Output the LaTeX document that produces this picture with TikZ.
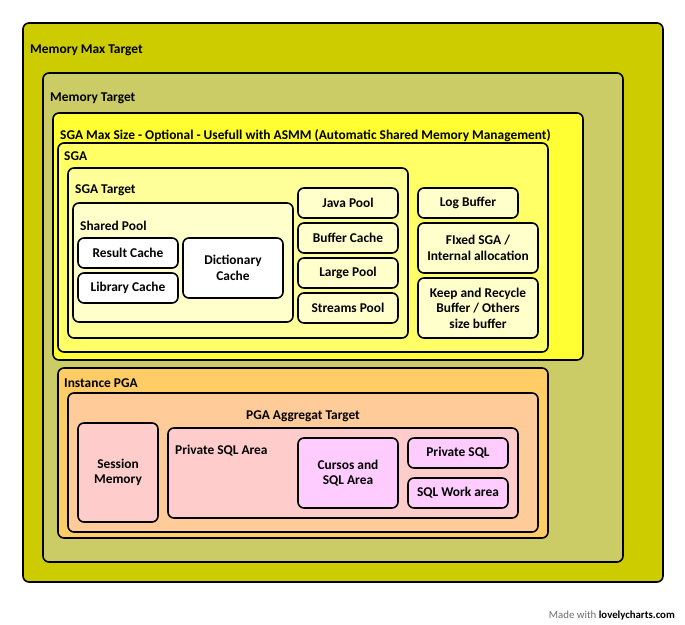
\documentclass[tikz,border=0pt]{standalone}
\usepackage{fontspec}
\setmainfont{Carlito}
\definecolor{cMax}{RGB}{204,204,0}
\definecolor{cMem}{RGB}{204,204,102}
\definecolor{cSgaMax}{RGB}{255,255,51}
\definecolor{cSga}{RGB}{255,255,102}
\definecolor{cSgaT}{RGB}{255,255,153}
\definecolor{cPool}{RGB}{255,255,204}
\definecolor{cPga}{RGB}{255,204,102}
\definecolor{cPgaAgg}{RGB}{255,204,153}
\definecolor{cPink}{RGB}{255,204,204}
\definecolor{cLilac}{RGB}{255,204,255}
\definecolor{cGrayTxt}{RGB}{110,110,110}
\tikzset{
  box/.style={draw=black, line width=1.6pt, rounded corners=6pt, inner sep=0pt, outer sep=0pt,
     font=\fontsize{13.4}{15.5}\selectfont\bfseries, align=center, text=black},
  lbl/.style={anchor=west, inner sep=0pt, font=\fontsize{13.4}{15.5}\selectfont\bfseries, text=black},
}
% \bx{name}{x1}{y1}{x2}{y2}{fill}{text}
\newcommand\bx[7]{\node[box, fill=#6, anchor=north west, minimum width={(#4-#2)*1pt}, minimum height={(#5-#3)*1pt}] (#1) at (#2pt,-#3pt) {#7};}
\begin{document}
\begin{tikzpicture}[x=1pt,y=1pt]
\useasboundingbox (0,0) rectangle (685,-624);
\bx{maxt}{23}{23}{663}{582}{cMax}{}
\node[lbl] (maxtl) at (30,-50.5) {Memory Max Target};
\bx{memt}{43}{73}{623}{562}{cMem}{}
\node[lbl] (memtl) at (50,-98.5) {Memory Target};
\bx{sgamax}{53}{113}{583}{360}{cSgaMax}{}
\node[lbl] (sgamaxl) at (60,-135.5) {SGA Max Size - Optional - Usefull with ASMM (Automatic Shared Memory Management)};
\bx{sga}{58}{143}{548}{352}{cSga}{}
\node[lbl] (sgal) at (64,-156.5) {SGA};
\bx{sgat}{68}{168}{408}{338}{cSgaT}{}
\node[lbl] (sgatl) at (75,-190.5) {SGA Target};
\bx{shp}{73}{203}{293}{322}{cPool}{}
\node[lbl] (shpl) at (80,-225.5) {Shared Pool};
\bx{resc}{78}{238}{178}{268}{white}{Result Cache}
\bx{libc}{78}{273}{178}{303}{white}{Library Cache}
\bx{dicc}{183}{238}{283}{298}{white}{Dictionary\\Cache}
\bx{java}{298}{188}{398}{218}{cPool}{Java Pool}
\bx{bufc}{298}{223}{398}{253}{cPool}{Buffer Cache}
\bx{larp}{298}{258}{398}{288}{cPool}{Large Pool}
\bx{strp}{298}{293}{398}{323}{cPool}{Streams Pool}
\bx{logb}{418}{188}{518}{218}{cPool}{Log Buffer}
\bx{fixs}{418}{223}{538}{273}{cPool}{FIxed SGA /\\Internal allocation}
\bx{keep}{418}{278}{538}{338}{cPool}{Keep and Recycle\\Buffer / Others\\size buffer}
\bx{ipga}{58}{368}{548}{538}{cPga}{}
\node[lbl] (ipgal) at (64,-383.5) {Instance PGA};
\bx{pgaa}{68}{393}{538}{532}{cPgaAgg}{}
\node[lbl, anchor=center] (pgaal) at (303,-416.5) {PGA Aggregat Target};
\bx{sesm}{78}{423}{158}{522}{cPink}{Session\\Memory}
\bx{psa}{168}{428}{518}{518}{cPink}{}
\node[lbl] (psal) at (175,-450.5) {Private SQL Area};
\bx{curs}{298}{438}{398}{508}{cLilac}{Cursos and\\SQL Area}
\bx{psql}{408}{438}{508}{468}{cLilac}{Private SQL}
\bx{sqlw}{408}{478}{508}{508}{cLilac}{SQL Work area}
\node[anchor=east, inner sep=0pt, font=\fontsize{10.8}{12}\selectfont] (wm) at (675,-616)
  {\textcolor{cGrayTxt}{Made with} \textbf{lovelycharts.com}};
\end{tikzpicture}
\end{document}
